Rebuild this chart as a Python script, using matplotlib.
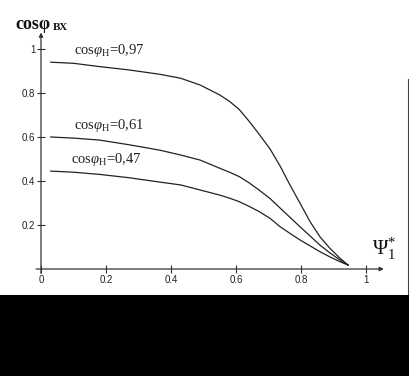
import matplotlib
matplotlib.use("Agg")
import matplotlib.pyplot as plt
from matplotlib.patches import Rectangle
from matplotlib.lines import Line2D

plt.rcParams['mathtext.fontset'] = 'custom'
plt.rcParams['mathtext.rm'] = 'Liberation Serif'
plt.rcParams['mathtext.it'] = 'Liberation Serif:italic'
plt.rcParams['mathtext.bf'] = 'Liberation Serif:bold'

# Data
x_vals = [0.03, 0.10, 0.18, 0.27, 0.366, 0.43, 0.49, 0.55, 0.58, 0.61, 0.64, 0.67,
          0.705, 0.735, 0.766, 0.797, 0.828, 0.858, 0.889, 0.92, 0.945]
cos_097 = [0.94, 0.935, 0.92, 0.905, 0.885, 0.867, 0.836, 0.791, 0.762, 0.725, 0.672, 0.615,
           0.545, 0.47, 0.382, 0.299, 0.215, 0.147, 0.094, 0.049, 0.018]
cos_061 = [0.60, 0.595, 0.586, 0.565, 0.54, 0.518, 0.495, 0.458, 0.44, 0.42, 0.392, 0.36,
           0.32, 0.278, 0.235, 0.192, 0.15, 0.109, 0.073, 0.041, 0.018]
cos_047 = [0.445, 0.44, 0.43, 0.415, 0.395, 0.382, 0.359, 0.336, 0.322, 0.306, 0.285, 0.262,
           0.23, 0.193, 0.162, 0.132, 0.105, 0.079, 0.055, 0.033, 0.018]
series = [cos_097, cos_061, cos_047]
series_labels = ["0,97", "0,61", "0,47"]
label_pos = [(0.10, 0.955), (0.10, 0.615), (0.093, 0.46)]

x_ticks = [0, 0.2, 0.4, 0.6, 0.8, 1]
x_ticklabels = ["0", "0.2", "0.4", "0.6", "0.8", "1"]
y_ticks = [0.2, 0.4, 0.6, 0.8, 1]
y_ticklabels = ["0.2", "0.4", "0.6", "0.8", "1"]

W, H = 410, 376
fig = plt.figure(figsize=(W / 100, H / 100), dpi=100)
fig.patch.set_facecolor("white")

ax = fig.add_axes([41 / W, (H - 269) / H, 325 / W, 220 / H])
ax.set_xlim(0, 1)
ax.set_ylim(0, 1)
ax.patch.set_alpha(0)
for s in ax.spines.values():
    s.set_visible(False)

for ys in series:
    ax.plot(x_vals, ys, color="#222222", lw=0.9)

for (lx, ly), lab in zip(label_pos, series_labels):
    ax.text(lx, ly, r"cos$\varphi_{\mathregular{Н}}$=" + lab, fontsize=10.5,
            family="Liberation Serif", color="#222222", ha="left", va="bottom")

# axes with arrows
ax.annotate("", xy=(1.055, 0), xytext=(-0.015, 0), xycoords="data",
            arrowprops=dict(arrowstyle="-|>", lw=0.9, color="#333333",
                            mutation_scale=6, shrinkA=0, shrinkB=0),
            annotation_clip=False)
ax.annotate("", xy=(0, 1.075), xytext=(0, -0.02), xycoords="data",
            arrowprops=dict(arrowstyle="-|>", lw=0.9, color="#333333",
                            mutation_scale=6, shrinkA=0, shrinkB=0),
            annotation_clip=False)

ax.set_xticks(x_ticks)
ax.set_xticklabels(x_ticklabels)
ax.set_yticks(y_ticks)
ax.set_yticklabels(y_ticklabels)
ax.tick_params(direction="inout", length=6, width=0.8, colors="#333333",
               labelsize=7, pad=1)
for lbl in ax.get_xticklabels() + ax.get_yticklabels():
    lbl.set_family("Liberation Sans")
    lbl.set_color("#222222")

# axis titles
fig.text(15 / W, 1 - 29 / H, "cosφ", fontsize=13, fontweight="bold",
         family="Liberation Serif", color="#111111", ha="left", va="baseline")
fig.text(53 / W, 1 - 30 / H, "ВХ", fontsize=8, fontweight="bold",
         family="Liberation Serif", color="#111111", ha="left", va="baseline")
ax.text(1.02, 0.03, r"$\mathrm{\Psi}_1^{*}$", fontsize=15, color="#111111",
        ha="left", va="bottom")

# black band at bottom and thin strip at right
fig.patches.append(Rectangle((0, 0), 1, (H - 295) / H, transform=fig.transFigure,
                             facecolor="black", edgecolor="none", zorder=10))
fig.lines.append(Line2D([409 / W, 409 / W], [(H - 295) / H, (H - 80) / H],
                        transform=fig.transFigure, color="#444444", lw=1.5))
fig.lines.append(Line2D([0, 408 / W], [(H - 294.5) / H, (H - 294.5) / H],
                        transform=fig.transFigure, color="#999999", lw=0.8))

fig.savefig("out.png", dpi=100, facecolor="white")
